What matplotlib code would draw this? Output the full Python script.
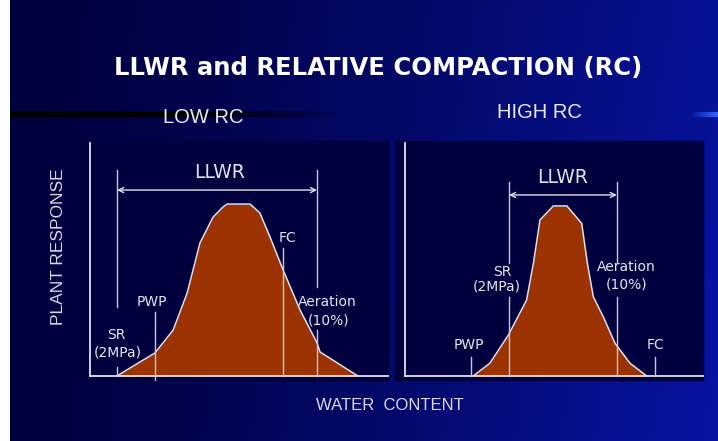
import matplotlib
matplotlib.use('Agg')
import matplotlib.pyplot as plt
import numpy as np
from matplotlib.patches import Rectangle

# ---------------- data (water content 0-100, plant response 0-100) ----------------
low_x = [9.0, 21.8, 27.9, 32.6, 36.9, 41.3, 44.6, 46.0, 53.7, 57.0, 60.4, 64.8, 70.5, 76.2, 77.2, 89.9]
low_y = [0.0, 9.9, 19.7, 35.6, 57.1, 68.2, 72.5, 73.8, 73.8, 70.0, 59.7, 45.5, 28.3, 14.2, 10.3, 0.0]
high_x = [22.9, 28.5, 34.7, 40.8, 43.1, 45.3, 49.8, 54.3, 59.3, 61.2, 63.2, 66.5, 70.5, 75.5, 81.1]
high_y = [0.0, 5.5, 17.6, 32.6, 48.4, 67.0, 73.0, 73.0, 65.5, 48.4, 34.0, 25.5, 14.0, 5.5, 0.0]

low_marks = {"SR": 9.1, "PWP": 21.8, "FC": 64.8, "Aeration": 76.2}
high_marks = {"PWP": 22.1, "SR": 34.9, "Aeration": 71.1, "FC": 83.9}

title = "LLWR and RELATIVE COMPACTION (RC)"
panel_titles = ["LOW RC", "HIGH RC"]
xlabel = "WATER  CONTENT"
ylabel = "PLANT RESPONSE"

# ---------------- figure ----------------
W, H = 718, 441
fig = plt.figure(figsize=(W / 100, H / 100), dpi=100)
fig.patch.set_facecolor('white')
plt.rcParams['font.family'] = ['DejaVu Sans']
ARIAL = ['Liberation Sans', 'DejaVu Sans']


def px_ax(x0, y0, x1, y1, **kw):
    return fig.add_axes([x0 / W, 1 - y1 / H, (x1 - x0) / W, (y1 - y0) / H], **kw)


# background gradient
bg = px_ax(10, 0, 718, 441)
bg.set_axis_off()
nx, ny = 300, 200
gx = np.linspace(0, 1, nx)[None, :]
gy = np.linspace(0, 1, ny)[:, None]
left = np.array([0.0, 0.0, 0.24])
right = np.array([0.03, 0.08, 0.64])
t = np.clip(gx ** 1.3 * 0.85 + gy * 0.15 * gx, 0, 1)
img = left[None, None, :] * (1 - t[..., None]) + right[None, None, :] * t[..., None]
bg.imshow(img, extent=[10, 718, 441, 0], aspect='auto')
# dark panel boxes
bg.add_patch(Rectangle((60, 141), 328, 239, color='#00003e', zorder=2))
bg.add_patch(Rectangle((395, 141), 308, 239, color='#00003e', zorder=2))
# black streak behind LOW RC
streak = np.zeros((1, 200, 4))
streak[..., 3] = np.clip(1.3 - np.linspace(0, 1, 200) ** 2 * 1.3, 0, 1)
bg.imshow(streak, extent=[10, 340, 117, 111], aspect='auto', zorder=3)
# blue dash at right edge
dash = np.zeros((1, 50, 4))
dash[..., 0] = 0.2; dash[..., 1] = 0.4; dash[..., 2] = 1.0
dash[..., 3] = np.linspace(0, 1, 50)
bg.imshow(dash, extent=[690, 718, 117, 112], aspect='auto', zorder=3)
bg.set_xlim(10, 718)
bg.set_ylim(441, 0)

fig.text(378 / W, 1 - 68 / H, title, color='white', fontsize=17.5, fontweight='bold',
         ha='center', va='center')
fig.text(203 / W, 1 - 117 / H, panel_titles[0], color='#e8e8f0', fontsize=14.5,
         ha='center', va='center', family=ARIAL)
fig.text(539 / W, 1 - 112 / H, panel_titles[1], color='#e8e8f0', fontsize=14.5,
         ha='center', va='center', family=ARIAL)
fig.text(390 / W, 1 - 405 / H, xlabel, color='#d8d8e4', fontsize=12,
         ha='center', va='center', family=ARIAL)
fig.text(59 / W, 1 - 247 / H, ylabel, color='#d8d8e4', fontsize=12.5,
         ha='center', va='center', rotation=90, family=ARIAL)

FILL = '#9c3200'
LINE = '#e0e0ea'
VL = '#c8c8d8'


def setup(ax):
    ax.set_xlim(0, 100)
    ax.set_ylim(0, 100)
    ax.patch.set_alpha(0)
    for s in ['top', 'right']:
        ax.spines[s].set_visible(False)
    for s in ['left', 'bottom']:
        ax.spines[s].set_color(LINE)
        ax.spines[s].set_linewidth(1.3)
    ax.set_xticks([]); ax.set_yticks([])


def vline(ax, x, y0, y1):
    ax.plot([x, x], [y0, y1], color=VL, lw=1.0, clip_on=False, zorder=4)


def label(ax, x, y, s, size=10):
    ax.text(x, y, s, color='#e4e4ee', fontsize=size, ha='center', va='center', zorder=5)


# ---------------- LOW RC ----------------
axL = px_ax(90, 143, 388, 376)
setup(axL)
axL.fill_between(low_x, low_y, 0, color=FILL, zorder=2, lw=0)
axL.plot(low_x, low_y, color=LINE, lw=1.1, zorder=3)
vline(axL, low_marks["SR"], 29.6, 88.4)
vline(axL, low_marks["SR"], 0, 4)
vline(axL, low_marks["PWP"], -1.7, 27.5)
vline(axL, low_marks["FC"], 0, 55.0)
vline(axL, low_marks["Aeration"], 38.2, 88.4)
vline(axL, low_marks["Aeration"], 0, 19.7)
axL.annotate('', xy=(low_marks["SR"], 79.8), xytext=(low_marks["Aeration"], 79.8),
             arrowprops=dict(arrowstyle='<->', color=LINE, lw=1.0, mutation_scale=9,
                             shrinkA=0, shrinkB=0), zorder=5)
label(axL, 43.6, 87.3, "LLWR", 13.5)
label(axL, 20.8, 31.8, "PWP")
label(axL, 8.7, 17.6, "SR")
label(axL, 9.4, 10.3, "(2MPa)")
label(axL, 66.4, 59.2, "FC")
label(axL, 79.5, 31.8, "Aeration")
label(axL, 79.9, 24.0, "(10%)")

# ---------------- HIGH RC ----------------
axR = px_ax(405, 143, 703, 376)
setup(axR)
axR.fill_between(high_x, high_y, 0, color=FILL, zorder=2, lw=0)
axR.plot(high_x, high_y, color=LINE, lw=1.1, zorder=3)
vline(axR, high_marks["SR"], 48.5, 83.3)
vline(axR, high_marks["SR"], 0, 33.9)
vline(axR, high_marks["Aeration"], 48.5, 83.3)
vline(axR, high_marks["Aeration"], 0, 33.9)
vline(axR, high_marks["PWP"], 0, 8.2)
vline(axR, high_marks["FC"], 0, 8.2)
axR.annotate('', xy=(high_marks["SR"], 77.7), xytext=(high_marks["Aeration"], 77.7),
             arrowprops=dict(arrowstyle='<->', color=LINE, lw=1.0, mutation_scale=9,
                             shrinkA=0, shrinkB=0), zorder=5)
label(axR, 53.0, 85.4, "LLWR", 13.5)
label(axR, 32.6, 44.6, "SR")
label(axR, 30.9, 38.6, "(2MPa)")
label(axR, 74.2, 46.8, "Aeration")
label(axR, 74.2, 39.1, "(10%)")
label(axR, 21.5, 13.3, "PWP")
label(axR, 83.9, 13.3, "FC")

fig.savefig('out.png', dpi=100, facecolor=fig.get_facecolor())
